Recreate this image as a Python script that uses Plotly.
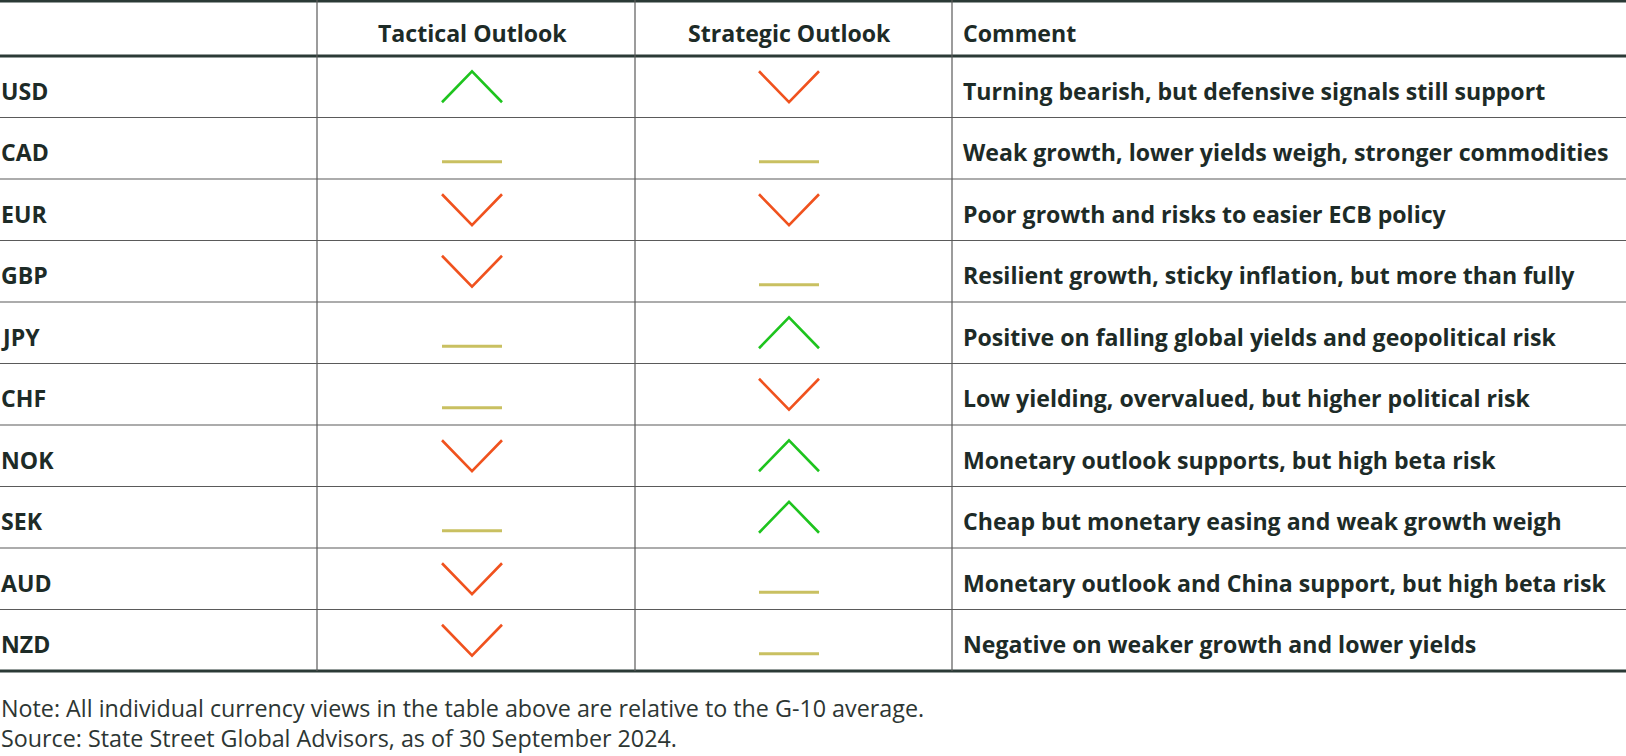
import plotly.graph_objects as go

# ---- data ----
currencies = ["USD", "CAD", "EUR", "GBP", "JPY", "CHF", "NOK", "SEK", "AUD", "NZD"]
tactical = [1, 0, -1, -1, 0, 0, -1, 0, -1, -1]     # 1 = up, 0 = neutral, -1 = down
strategic = [-1, 0, -1, 0, 1, -1, 1, 1, 0, 0]
comments = [
    "Turning bearish, but defensive signals still support",
    "Weak growth, lower yields weigh, stronger commodities",
    "Poor growth and risks to easier ECB policy",
    "Resilient growth, sticky inflation, but more than fully",
    "Positive on falling global yields and geopolitical risk",
    "Low yielding, overvalued, but higher political risk",
    "Monetary outlook supports, but high beta risk",
    "Cheap but monetary easing and weak growth weigh",
    "Monetary outlook and China support, but high beta risk",
    "Negative on weaker growth and lower yields",
]
headers = ["", "Tactical Outlook", "Strategic Outlook", "Comment"]
notes = [
    "Note: All individual currency views in the table above are relative to the G-10 average.",
    "Source: State Street Global Advisors, as of 30 September 2024.",
]

# ---- layout / style constants ----
W, H = 1626, 756
col_edges = [0, 317, 635, 952, W]
icon_cx = [472, 789]
header_top, header_bot = 1, 56
row_h = 61.5
n = len(currencies)
table_bot = header_bot + row_h * n
comment_x = 961
label_shift = -1.5

TEXT = "#1d2b27"
DARK = "#2b3a36"
THIN = "#5a5a5a"
UP = "#1ec41e"
DOWN = "#f0521e"
FLAT = "#c9c061"
FONT = "Open Sans"
BOLD_SIZE = 23.1

fig = go.Figure()
shapes = []
annotations = []

# horizontal lines
shapes.append(dict(type="line", x0=0, x1=W, y0=header_top, y1=header_top,
                   line=dict(color=DARK, width=3)))
shapes.append(dict(type="line", x0=0, x1=W, y0=header_bot, y1=header_bot,
                   line=dict(color=DARK, width=3)))
for i in range(1, n):
    y = header_bot + row_h * i
    shapes.append(dict(type="line", x0=0, x1=W, y0=y, y1=y,
                       line=dict(color=THIN, width=1.2)))
shapes.append(dict(type="line", x0=0, x1=W, y0=table_bot, y1=table_bot,
                   line=dict(color=DARK, width=3)))
# vertical lines
for xe in col_edges[1:4]:
    shapes.append(dict(type="line", x0=xe, x1=xe, y0=0, y1=table_bot,
                       line=dict(color=THIN, width=1.2)))

# headers
hy = 32.5
annotations.append(dict(x=icon_cx[0], y=hy, text="<b>" + headers[1] + "</b>",
                        xanchor="center", yanchor="middle", showarrow=False))
annotations.append(dict(x=icon_cx[1], y=hy, text="<b>" + headers[2] + "</b>",
                        xanchor="center", yanchor="middle", showarrow=False))
annotations.append(dict(x=comment_x, y=hy, text="<b>" + headers[3] + "</b>",
                        xanchor="left", yanchor="middle", showarrow=False))

# rows
hw, hh = 30, 15.5
def icon_trace(cx, cy, v):
    if v == 1:
        xs = [cx - hw, cx, cx + hw]
        ys = [cy + hh, cy - hh, cy + hh]
        col, w = UP, 2.6
    elif v == -1:
        xs = [cx - hw, cx, cx + hw]
        ys = [cy - hh, cy + hh, cy - hh]
        col, w = DOWN, 2.6
    else:
        xs = [cx - hw, cx + hw]
        ys = [cy + 13.5, cy + 13.5]
        col, w = FLAT, 3.2
    return go.Scatter(x=xs, y=ys, mode="lines", line=dict(color=col, width=w),
                      hoverinfo="skip", showlegend=False)

for i, cur in enumerate(currencies):
    cy = header_bot + row_h * (i + 0.5)
    annotations.append(dict(x=0, xshift=label_shift, y=cy + 4, text="<b>" + cur + "</b>",
                            xanchor="left", yanchor="middle", showarrow=False))
    annotations.append(dict(x=comment_x, y=cy + 4, text="<b>" + comments[i] + "</b>",
                            xanchor="left", yanchor="middle", showarrow=False))
    fig.add_trace(icon_trace(icon_cx[0], cy, tactical[i]))
    fig.add_trace(icon_trace(icon_cx[1], cy, strategic[i]))

for j, t in enumerate(notes):
    annotations.append(dict(x=0, xshift=label_shift, y=708 + 29.5 * j, text=t,
                            xanchor="left", yanchor="middle", showarrow=False,
                            font=dict(size=23.3, color="#2d3633", family=FONT)))

fig.update_layout(
    width=W, height=H, margin=dict(l=0, r=0, t=0, b=0),
    paper_bgcolor="white", plot_bgcolor="white",
    xaxis=dict(range=[0, W], visible=False, fixedrange=True),
    yaxis=dict(range=[H, 0], visible=False, fixedrange=True),
    shapes=shapes, annotations=annotations,
    font=dict(family=FONT, size=BOLD_SIZE, color=TEXT),
    showlegend=False,
)
fig.write_html("out.html", config={"displayModeBar": False},
               post_script="document.body.style.margin='0';document.body.style.overflow='hidden';")
